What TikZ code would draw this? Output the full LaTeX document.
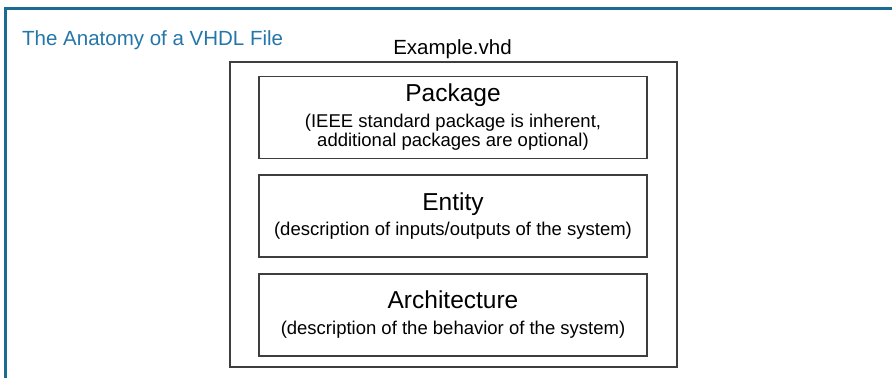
\documentclass[tikz,border=0pt]{standalone}
\usepackage{fontspec}
\setmainfont{Liberation Sans}
\usepackage{xcolor}
\usepackage{tikz}
\usetikzlibrary{positioning}

\definecolor{framecol}{RGB}{28,108,146}
\definecolor{titlecol}{RGB}{36,118,170}
\definecolor{boxcol}{RGB}{62,62,62}

\newcommand{\headsz}{\fontsize{24.5}{26}\selectfont}
\newcommand{\subsz}{\fontsize{18.5}{19.5}\selectfont}

\begin{document}
\begin{tikzpicture}[x=1pt, y=-1pt,
    part/.style={draw=boxcol, line width=1.6pt, minimum width=388pt,
      minimum height=82pt, inner sep=0pt, align=center, font=\subsz},
    filebox/.style={draw=boxcol, line width=1.6pt, minimum width=447pt,
      minimum height=305pt, inner sep=0pt}]
  \useasboundingbox (0,0) rectangle (892,378);
  % blue frame, top and left only
  \draw[framecol, line width=3pt] (892,8) -- (5,8) -- (5,378);
  \node[anchor=base west, font=\fontsize{20.5}{22}\selectfont, text=titlecol,
      inner sep=0pt] (title) at (22,45) {The Anatomy of a VHDL File};
  % the file and its three parts
  \node[filebox] (file) at (453.5,214.5) {};
  \node[anchor=base, font=\fontsize{20.5}{22}\selectfont, inner sep=0pt]
      (fname) at (452.5,54) {Example.vhd};
  \node[part] (pkg) at (453,117.5)
      {{\headsz Package}\\[6pt]
       (IEEE standard package is inherent,\\
       additional packages are optional)};
  \node[part, below=15pt of pkg] (ent)
      {{\headsz Entity}\\[6pt]
       (description of inputs/outputs of the system)};
  \node[part, below=15pt of ent] (arch)
      {{\headsz Architecture}\\[6pt]
       (description of the behavior of the system)};
\end{tikzpicture}
\end{document}
